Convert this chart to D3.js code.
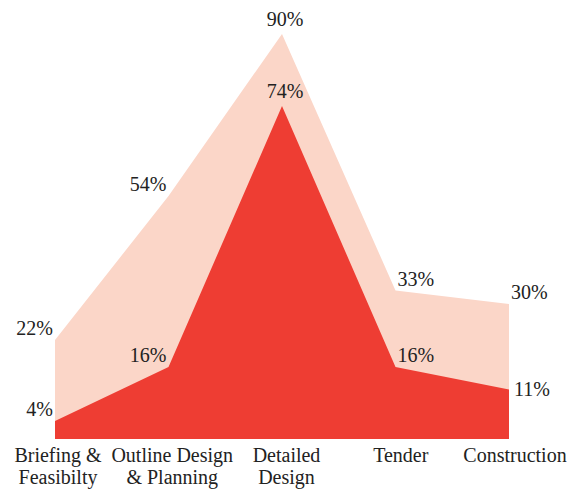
<!DOCTYPE html>
<html>
<head>
<meta charset="utf-8">
<script src="https://cdn.jsdelivr.net/npm/d3@7"></script>
<style>
  html, body { margin: 0; padding: 0; background: #fff; }
  svg { display: block; }
  text { font-family: "Liberation Serif", "Times New Roman", serif; font-size: 20px; fill: #222; }
</style>
</head>
<body>
<svg id="chart" width="575" height="489"></svg>
<script>
// Project stages and the share of issues found at each one
const stages = [
  ["Briefing &", "Feasibilty"],
  ["Outline Design", "& Planning"],
  ["Detailed", "Design"],
  ["Tender"],
  ["Construction"]
];
const upperValues = [22, 54, 90, 33, 30];
const lowerValues = [4, 16, 74, 16, 11];

const upperColor = "#fbd6c8";
const lowerColor = "#ee3d33";

const svg = d3.select("#chart");
const plot = { left: 55, right: 509, top: 34, bottom: 439 };

const x = d3.scalePoint()
  .domain(d3.range(stages.length))
  .range([plot.left, plot.right]);

// Stage names sit on a slightly wider spread so the two-line labels breathe
const xLabel = d3.scalePoint()
  .domain(d3.range(stages.length))
  .range([plot.left + 3, plot.right + 6]);

const y = d3.scaleLinear()
  .domain([0, 90])
  .range([plot.bottom, plot.top]);

const area = d3.area()
  .x((d, i) => x(i))
  .y0(y(0))
  .y1(d => y(d))
  .curve(d3.curveLinear);

svg.append("path")
  .datum(upperValues)
  .attr("fill", upperColor)
  .attr("d", area);

svg.append("path")
  .datum(lowerValues)
  .attr("fill", lowerColor)
  .attr("d", area);

// Value labels: left side end-anchored, peak centred, right side start-anchored
const mid = Math.floor(stages.length / 2);
function placeLabels(values, isLower) {
  svg.append("g")
    .selectAll("text")
    .data(values)
    .join("text")
    .attr("text-anchor", (d, i) => i < mid ? "end" : i === mid ? "middle" : "start")
    .attr("x", (d, i) => {
      if (isLower && i === values.length - 1) return x(i) + 5;
      return x(i) + (i < mid ? -2 : i === mid ? 3 : 2);
    })
    .attr("y", (d, i) => {
      if (isLower && i === values.length - 1) return y(d) + 6;
      return y(d) - (i === mid ? 8 : 5);
    })
    .text(d => d + "%");
}
placeLabels(upperValues, false);
placeLabels(lowerValues, true);

// Stage names below the baseline
const labels = svg.append("g")
  .selectAll("text")
  .data(stages)
  .join("text")
  .attr("text-anchor", "middle")
  .attr("x", (d, i) => xLabel(i))
  .attr("y", 462);

labels.selectAll("tspan")
  .data(d => d)
  .join("tspan")
  .attr("x", function () { return d3.select(this.parentNode).attr("x"); })
  .attr("dy", (d, i) => i === 0 ? 0 : 22)
  .text(d => d);
</script>
</body>
</html>
